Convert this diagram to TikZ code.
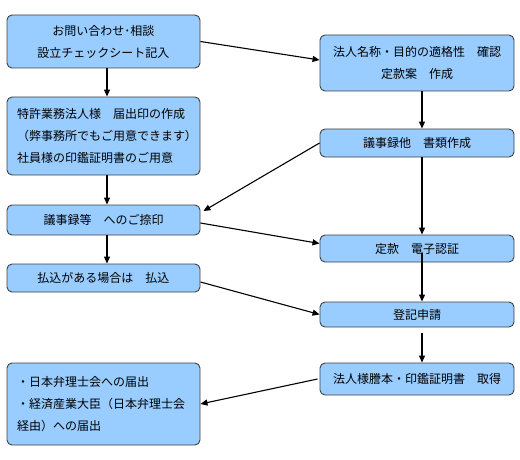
\documentclass[tikz,border=0pt]{standalone}
\usepackage{fontspec}
\setmainfont{Noto Sans CJK JP}
\usetikzlibrary{arrows.meta}
\definecolor{boxfill}{HTML}{99CCFF}
\definecolor{boxline}{HTML}{404040}
\tikzset{
  box/.style={draw=boxline, line width=0.9pt, fill=boxfill, rounded corners=5pt,
    font=\fontsize{12}{22}\selectfont, inner sep=0pt, align=center},
  lbox/.style={box, minimum width=193pt},
  rbox/.style={box, minimum width=194pt},
  arr/.style={line width=1.1pt, -{Triangle[length=7pt,width=6pt]}}
}
\begin{document}
\begin{tikzpicture}[x=1pt,y=-1pt]
\useasboundingbox (0,0) rectangle (520,460);
\node[lbox, minimum height=53pt] (b1) at (103.5,41.5) {お問い合わせ･相談\\設立チェックシート記入};
\node[lbox, minimum height=78pt, align=left, text width=173pt, inner xsep=10pt] (b2) at (103.5,136)
  {特許業務法人様　届出印の作成\\（弊事務所でもご用意できます）\\社員様の印鑑証明書のご用意};
\node[lbox, minimum height=30pt] (b3) at (103.5,220) {議事録等　へのご捺印};
\node[lbox, minimum height=28pt] (b4) at (103.5,278) {払込がある場合は　払込};
\node[lbox, minimum height=82pt, align=left, text width=173pt, inner xsep=10pt] (b5) at (103.5,404)
  {・日本弁理士会への届出\\・経済産業大臣（日本弁理士会\\経由）への届出};
\node[rbox, minimum height=56pt] (r1) at (417,63) {法人名称・目的の適格性　確認\\定款案　作成};
\node[rbox, minimum height=28pt] (r2) at (417,143) {議事録他　書類作成};
\node[rbox, minimum height=27pt] (r3) at (417,248.5) {定款　電子認証};
\node[rbox, minimum height=25pt] (r4) at (417,314.5) {登記申請};
\node[rbox, minimum height=32pt] (r5) at (417,379) {法人様謄本・印鑑証明書　取得};

\draw[arr] (b1.east) -- ([yshift=3pt]r1.west);
\draw[arr] ([xshift=3.5pt]b1.south) -- ([xshift=3.5pt]b2.north);
\draw[arr] ([xshift=3.5pt]b2.south) -- ([xshift=3.5pt]b3.north);
\draw[arr] ([xshift=3.5pt]b3.south) -- ([xshift=3.5pt]b4.north);
\draw[arr] ([xshift=5pt]r1.south) -- ([xshift=5pt]r2.north);
\draw[arr] ([xshift=5pt]r2.south) -- ([xshift=5pt]r3.north);
\draw[arr] ([xshift=5pt,yshift=-4pt]r3.center) -- ([xshift=5pt]r4.north);
\draw[arr] ([xshift=5pt,yshift=-6pt]r4.south) -- ([xshift=5pt]r5.north);
\draw[arr] (r2.west) -- ([xshift=3pt,yshift=9pt]b3.east);
\draw[arr] ([yshift=-3pt]b3.east) -- ([yshift=5pt]r3.west);
\draw[arr] ([yshift=-4pt]b4.east) -- (r4.west);
\draw[arr] ([xshift=-2pt]r5.west) -- (b5.east);
\end{tikzpicture}
\end{document}
